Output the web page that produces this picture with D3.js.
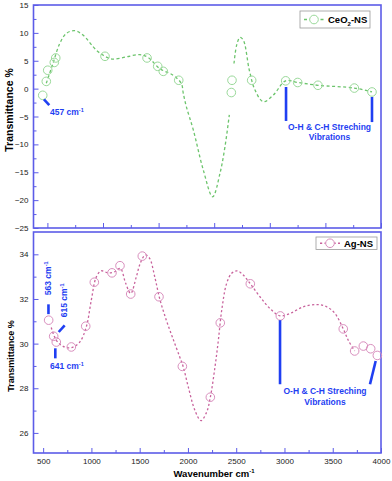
<!DOCTYPE html>
<html>
<head>
<meta charset="utf-8">
<script src="https://cdn.jsdelivr.net/npm/d3@7"></script>
<style>
  body { margin: 0; background: #fff; }
  svg { display: block; font-family: Arial, "Liberation Sans", sans-serif; }
</style>
</head>
<body>
<div id="chart"></div>
<script>
// CeO2-NS markers and fitted curve (top panel)
var ceMarkX = [458, 490, 503, 562, 575, 1018, 1396, 1492, 1542, 1681, 2154, 2160, 2337, 2643, 2751, 2933, 3260, 3419]
var ceMarkY = [-1.2, 1.3, 3.3, 4.7, 5.5, 5.8, 5.5, 4.0, 3.1, 1.5, -0.7, 1.5, 1.5, 1.4, 1.1, 0.6, 0.1, -0.6]
var ceCurveX = [490, 550, 611, 670, 745, 820, 940, 1018, 1090, 1210, 1330, 1405, 1510, 1630, 1704, 1722, 1749, 1812, 1902, 1986, 2052, 2097, 2136, null,
    2178, 2202, 2232, 2262, 2316, 2367, 2442, 2532, 2643, 2751, 2933, 3260, 3419]
var ceCurveY = [0.95, 4.5, 8.1, 9.9, 10.4, 9.6, 6.9, 5.8, 5.3, 5.7, 6.1, 5.6, 3.6, 2.4, 0.95, -0.85, -3.2, -7.4, -14.6, -19.4, -15.2, -10.4, -4.7, null,
    4.5, 7.8, 9.2, 8.7, 3.3, -0.25, -2.35, -1.15, 1.4, 1.1, 0.6, 0.1, -0.6]

// Ag-NS markers and fitted curve (bottom panel)
var agMarkX = [557, 609, 636, 792, 941, 1030, 1213, 1296, 1407, 1527, 1700, 1942, 2232, 2335, 2646, 2957, 3609, 3727, 3817, 3893, 3962]
var agMarkY = [31.05, 30.33, 30.07, 29.85, 30.78, 32.75, 33.17, 33.49, 32.22, 33.92, 32.1, 28.98, 27.6, 30.93, 32.68, 31.24, 30.66, 29.67, 29.89, 29.77, 29.47]
var agCurveX = [584, 636, 706, 792, 879, 947, 999, 1051, 1102, 1172, 1241, 1299, 1355, 1407, 1465, 1506, 1558, 1603, 1656, 1707, 1776, 1845, 1915,
    1952, 2004, 2073, 2135, 2194, 2232, 2280, 2315, 2350, 2401, 2453, 2511, 2573, 2646, 2746, 2850, 2957, 3057, 3195, 3334, 3437, 3523, 3609, 3661, 3727]
var agCurveY = [30.72, 30.15, 29.88, 29.82, 30.07, 30.75, 31.95, 32.99, 33.26, 33.17, 33.22, 33.37, 32.7, 32.25, 32.99, 33.6, 33.97, 33.82, 32.99, 32.02, 31.05, 30.22, 29.4,
    28.95, 28.05, 27.0, 26.55, 26.93, 27.6, 28.95, 30.15, 31.5, 32.7, 33.15, 33.26, 33.07, 32.68, 32.1, 31.57, 31.24, 31.35, 31.65, 31.75, 31.65, 31.35, 30.66, 30.15, 29.67]

// ticks
var topYTicks = [-25, -20, -15, -10, -5, 0, 5, 10, 15]
var topYMinor = [-22.5, -17.5, -12.5, -7.5, -2.5, 2.5, 7.5, 12.5]
var topXTicks = [500, 1000, 1500, 2000, 2500, 3000, 3500]
var topXMinor = [750, 1250, 1750, 2250, 2750, 3250]
var botYTicks = [26, 28, 30, 32, 34]
var botYMinor = [27, 29, 31, 33]
var botXTicks = [500, 1000, 1500, 2000, 2500, 3000, 3500, 4000]
var botXMinor = [750, 1250, 1750, 2250, 2750, 3250, 3750]

var axisBlue = "#5c5ce8"
var noteBlue = "#1f3ff2"

var svg = d3.select("#chart").append("svg")
    .attr("width", 392)
    .attr("height", 481)

// scales
var xTop = d3.scaleLinear().domain([375, 3500]).range([33.5, 381])
var yTop = d3.scaleLinear().domain([-25, 15]).range([228, 5])
var xBot = d3.scaleLinear().domain([400, 4000]).range([33.5, 381])
var yBot = d3.scaleLinear().domain([25.1, 35]).range([453, 232])

function drawAxes(x, y, xt, xm, yt, ym, showXLabels) {
    svg.append("g").attr("transform", "translate(" + x.range()[0] + ",0)")
        .call(d3.axisLeft(y).tickValues(yt).tickSize(-5).tickPadding(5))
    svg.append("g").attr("transform", "translate(" + x.range()[0] + ",0)")
        .call(d3.axisLeft(y).tickValues(ym).tickSize(-3).tickFormat(""))
    svg.append("g").attr("transform", "translate(0," + y.range()[0] + ")")
        .call(d3.axisBottom(x).tickValues(xt).tickSize(-5).tickPadding(5)
            .tickFormat(showXLabels ? d3.format("d") : ""))
    svg.append("g").attr("transform", "translate(0," + y.range()[0] + ")")
        .call(d3.axisBottom(x).tickValues(xm).tickSize(-3).tickFormat(""))
    svg.selectAll(".domain").remove()
    svg.selectAll(".tick line").attr("stroke", axisBlue).attr("stroke-width", 1)
    svg.selectAll(".tick text").attr("fill", "#222").style("font-size", "8px")
        .style("font-family", "Arial, 'Liberation Sans', sans-serif")
    // frame
    svg.append("rect")
        .attr("x", x.range()[0]).attr("y", y.range()[1])
        .attr("width", x.range()[1] - x.range()[0])
        .attr("height", y.range()[0] - y.range()[1])
        .attr("fill", "none").attr("stroke", axisBlue).attr("stroke-width", 1.6)
}

drawAxes(xTop, yTop, topXTicks, topXMinor, topYTicks, topYMinor, false)
drawAxes(xBot, yBot, botXTicks, botXMinor, botYTicks, botYMinor, true)

function drawSeries(x, y, cx, cy, mx, my, lineCol, markCol, dash) {
    var pts = cx.map(function (d, i) { return [d, cy[i]] })
    var line = d3.line()
        .defined(function (d) { return d[0] != null })
        .x(function (d) { return x(d[0]) })
        .y(function (d) { return y(d[1]) })
        .curve(d3.curveCatmullRom)
    svg.append("path").datum(pts)
        .attr("d", line)
        .attr("fill", "none")
        .attr("stroke", lineCol)
        .attr("stroke-width", 1.3)
        .attr("stroke-dasharray", dash)
    svg.append("g").selectAll("circle")
        .data(mx.map(function (d, i) { return [d, my[i]] }))
        .enter().append("circle")
        .attr("cx", function (d) { return x(d[0]) })
        .attr("cy", function (d) { return y(d[1]) })
        .attr("r", 4.3)
        .attr("fill", "none")
        .attr("stroke", markCol)
        .attr("stroke-width", 1)
}

drawSeries(xTop, yTop, ceCurveX, ceCurveY, ceMarkX, ceMarkY, "#6cc46c", "#9ad99a", "3,2.5")
drawSeries(xBot, yBot, agCurveX, agCurveY, agMarkX, agMarkY, "#c8629c", "#d98fbe", "2.2,2.3")

// axis titles
svg.append("text")
    .attr("transform", "translate(13," + 110 + ") rotate(-90)")
    .attr("text-anchor", "middle")
    .style("font-size", "10.5px").style("font-weight", "bold")
    .text("Transmittance %")
svg.append("text")
    .attr("transform", "translate(14," + 356 + ") rotate(-90)")
    .attr("text-anchor", "middle")
    .style("font-size", "9px").style("font-weight", "bold")
    .text("Transmittance %")
var xt = svg.append("text")
    .attr("x", 214).attr("y", 477)
    .attr("text-anchor", "middle")
    .style("font-size", "9.5px").style("font-weight", "bold")
    .text("Wavenumber cm")
xt.append("tspan").attr("dy", -4).style("font-size", "6px").text("-1")

// annotations
function note(x, y, x1, y1, x2, y2) {
    svg.append("line")
        .attr("x1", x(x1)).attr("y1", y(y1))
        .attr("x2", x(x2)).attr("y2", y(y2))
        .attr("stroke", noteBlue).attr("stroke-width", 2.6)
}
function label(xp, yp, txt, anchor, rot) {
    var t = svg.append("text")
        .attr("transform", "translate(" + xp + "," + yp + ")" + (rot ? " rotate(-90)" : ""))
        .attr("text-anchor", anchor || "start")
        .attr("fill", noteBlue)
        .style("font-size", "8.5px").style("font-weight", "bold")
    t.append("tspan").text(txt)
    t.append("tspan").attr("dy", -3.5).style("font-size", "5.5px").text("-1")
}
function caption(x, y, xv, yv, txt) {
    svg.append("text").attr("x", x(xv)).attr("y", y(yv) + 3)
        .attr("text-anchor", "middle").attr("fill", noteBlue)
        .style("font-size", "8.5px").style("font-weight", "bold")
        .text(txt)
}

note(xTop, yTop, 469, -1.92, 517, -2.94)
label(xTop(523), yTop(-4.2) + 3, "457 cm", "start")
note(xTop, yTop, 2646, 0.29, 2646, -5.8)
note(xTop, yTop, 3419, -1.5, 3419, -6.0)
caption(xTop, yTop, 3037, -6.9, "O-H & C-H Streching")
caption(xTop, yTop, 3037, -8.7, "Vibrations")

note(xBot, yBot, 555, 31.76, 555, 31.32)
label(xBot(555) + 3, yBot(32.17), "563 cm", "start", true)
note(xBot, yBot, 661, 30.52, 723, 30.82)
label(xBot(721) + 3, yBot(31.18), "615 cm", "start", true)
note(xBot, yBot, 626, 29.79, 626, 29.34)
label(xBot(571), yBot(28.98) + 3, "641 cm", "start")
note(xBot, yBot, 2954, 31.05, 2954, 28.18)
note(xBot, yBot, 3945, 29.22, 3886, 28.18)
caption(xBot, yBot, 3420, 27.86, "O-H & C-H Streching")
caption(xBot, yBot, 3420, 27.37, "Vibrations")

// legends
function legend(x0, y0, w, h, lineCol, markCol, dash, name, sub, rest) {
    var g = svg.append("g").attr("transform", "translate(" + x0 + "," + y0 + ")")
    g.append("rect").attr("width", w).attr("height", h)
        .attr("fill", "#fff").attr("stroke", "#999").attr("stroke-width", 0.8)
    g.append("line").attr("x1", 4).attr("x2", 24).attr("y1", h / 2).attr("y2", h / 2)
        .attr("stroke", lineCol).attr("stroke-width", 1.3).attr("stroke-dasharray", dash)
    g.append("circle").attr("cx", 14).attr("cy", h / 2).attr("r", 4.3)
        .attr("fill", "#fff").attr("stroke", markCol)
    var t = g.append("text").attr("x", 28).attr("y", h / 2 + 3.5)
        .style("font-size", "9.5px").style("font-weight", "bold")
    t.append("tspan").text(name)
    if (sub) {
        t.append("tspan").attr("dy", 2.5).style("font-size", "6px").text(sub)
        t.append("tspan").attr("dy", -2.5).text(rest)
    }
}
legend(300, 11, 70, 17, "#6cc46c", "#9ad99a", "3,2.5", "CeO", "2", "-NS")
legend(316, 237, 61, 12.5, "#c8629c", "#d98fbe", "2.2,2.3", "Ag-NS")
</script>
</body>
</html>
